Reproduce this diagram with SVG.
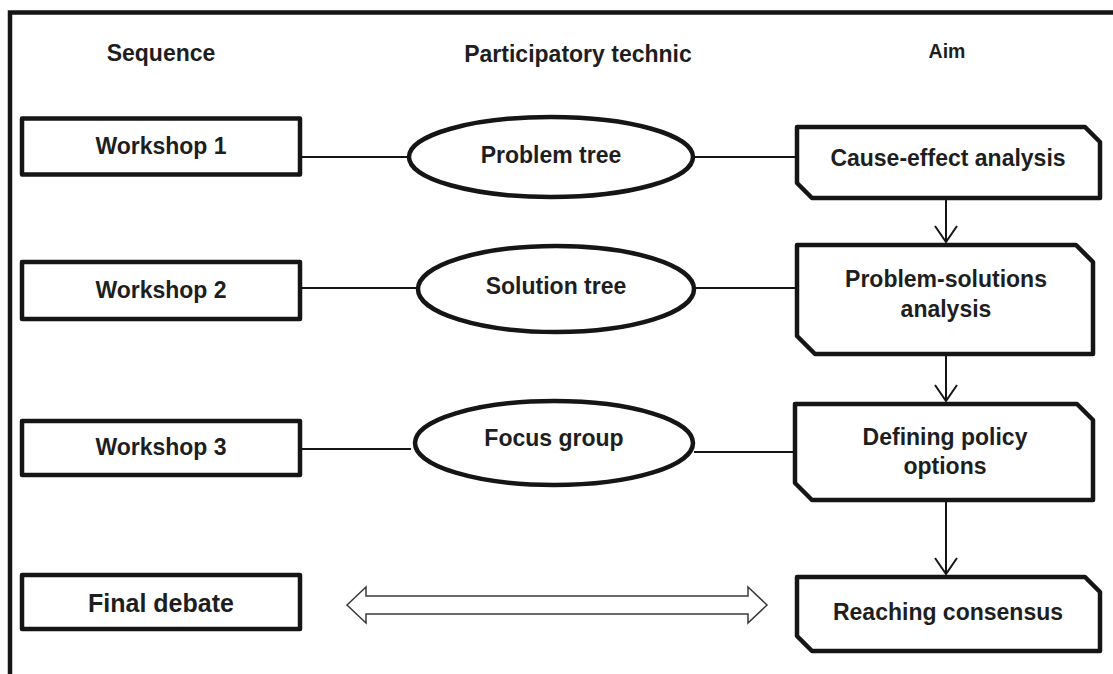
<svg xmlns="http://www.w3.org/2000/svg" width="1113" height="674" viewBox="0 0 1113 674">
  <style>
    .frame { fill: none; stroke: #151515; stroke-width: 4.5; }
    .box { fill: #fff; stroke: #151515; stroke-width: 4.5; stroke-linejoin: round; }
    .link { fill: none; stroke: #151515; stroke-width: 1.8; }
    .flow { fill: none; stroke: #151515; stroke-width: 2; }
    .twoway { fill: #fff; stroke: #3a3a3a; stroke-width: 1.5; }
    text { font-family: "Liberation Sans", Arial, sans-serif; font-weight: bold; fill: #1e1e1e; text-anchor: middle; }
    .t { font-size: 23px; }
    .head { font-size: 23px; }
    .small { font-size: 19.5px; }
    .big { font-size: 25px; }
  </style>
  <defs>
    <!-- open V arrowhead, drawn along +x so orient="auto" follows the line -->
    <marker id="vhead" viewBox="0 0 18 24" markerWidth="18" markerHeight="24" refX="17" refY="12" orient="auto" markerUnits="userSpaceOnUse">
      <path d="M1,1 L17,12 L1,23" fill="none" stroke="#151515" stroke-width="2"/>
    </marker>
  </defs>

  <rect width="1113" height="674" fill="#fff"/>

  <!-- outer frame (left and top edges) -->
  <path class="frame" d="M10,674 V12.5 H1113"/>

  <!-- column headings -->
  <g id="headings">
    <text class="head" x="161" y="61">Sequence</text>
    <text class="head" x="578" y="62">Participatory technic</text>
    <text class="small" x="947" y="58">Aim</text>
  </g>

  <!-- connectors -->
  <g id="connectors">
    <line class="link" x1="301" y1="157" x2="409" y2="157"/>
    <line class="link" x1="694" y1="157" x2="797" y2="157"/>
    <line class="link" x1="301" y1="288" x2="418" y2="288"/>
    <line class="link" x1="694" y1="288" x2="800" y2="288"/>
    <line class="link" x1="301" y1="449" x2="411" y2="449"/>
    <line class="link" x1="694" y1="452" x2="800" y2="452"/>
    <line class="flow" x1="946" y1="200" x2="946" y2="242" marker-end="url(#vhead)"/>
    <line class="flow" x1="946" y1="356" x2="946" y2="401" marker-end="url(#vhead)"/>
    <line class="flow" x1="946" y1="502" x2="946" y2="574" marker-end="url(#vhead)"/>
    <path class="twoway" d="M347,605 L366,587 L366,596 L748,596 L748,587 L767,605 L748,623 L748,614 L366,614 L366,623 Z"/>
  </g>

  <!-- sequence column -->
  <g id="workshop1">
    <rect class="box" x="22" y="118.5" width="278" height="56"/>
    <text class="t" x="161" y="154">Workshop 1</text>
  </g>
  <g id="workshop2">
    <rect class="box" x="22" y="262" width="278" height="57"/>
    <text class="t" x="161" y="298">Workshop 2</text>
  </g>
  <g id="workshop3">
    <rect class="box" x="22" y="421" width="278" height="54"/>
    <text class="t" x="161" y="455">Workshop 3</text>
  </g>
  <g id="final-debate">
    <rect class="box" x="22" y="575" width="278" height="54"/>
    <text class="big" x="161" y="612">Final debate</text>
  </g>

  <!-- participatory technique column -->
  <g id="problem-tree">
    <ellipse class="box" cx="551" cy="157" rx="142" ry="40"/>
    <text class="t" x="551" y="163">Problem tree</text>
  </g>
  <g id="solution-tree">
    <ellipse class="box" cx="556" cy="289" rx="138" ry="43"/>
    <text class="t" x="556" y="294">Solution tree</text>
  </g>
  <g id="focus-group">
    <ellipse class="box" cx="554" cy="443" rx="139" ry="42"/>
    <text class="t" x="554" y="446">Focus group</text>
  </g>

  <!-- aim column: boxes with clipped top-right and bottom-left corners -->
  <g id="cause-effect">
    <path class="box" d="M797,127 H1085 L1100,142 V198 H812 L797,183 Z"/>
    <text class="t" x="948" y="166">Cause-effect analysis</text>
  </g>
  <g id="problem-solutions">
    <path class="box" d="M797,245 H1076 L1093,262 V354 H815 L797,336 Z"/>
    <text class="t" x="946" y="287">Problem-solutions</text>
    <text class="t" x="946" y="317">analysis</text>
  </g>
  <g id="policy-options">
    <path class="box" d="M795,404 H1077 L1093,420 V500 H812 L795,483 Z"/>
    <text class="t" x="945" y="445">Defining policy</text>
    <text class="t" x="945" y="474">options</text>
  </g>
  <g id="consensus">
    <path class="box" d="M797,577 H1085 L1100,592 V651 H812 L797,636 Z"/>
    <text class="t" x="948" y="620">Reaching consensus</text>
  </g>
</svg>
